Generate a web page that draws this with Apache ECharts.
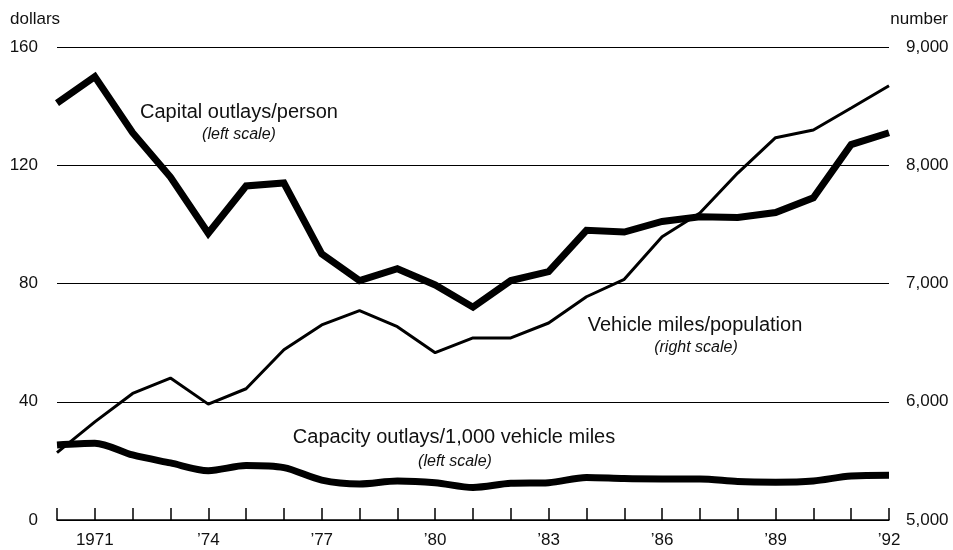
<!DOCTYPE html>
<html>
<head>
<meta charset="utf-8">
<script src="https://cdn.jsdelivr.net/npm/echarts@6/dist/echarts.min.js"></script>
<style>html,body{margin:0;padding:0;background:#fff;}#c{width:953px;height:550px;}</style>
</head>
<body>
<div id="c"></div>
<script>
var years = ['1970','1971','1972','1973','1974','1975','1976','1977','1978','1979','1980','1981','1982','1983','1984','1985','1986','1987','1988','1989','1990','1991','1992'];
var xTickLabels = ['','1971','','','\u201974','','','\u201977','','','\u201980','','','\u201983','','','\u201986','','','\u201989','','','\u201992'];
var capitalPerPerson = [141,150,131,116,97,113,114,90,81,85,79.5,72,81,84,98,97.4,101,102.6,102.3,104,109,127,131];
var vehicleMilesPerPop = [5570,5830,6070,6200,5980,6110,6440,6650,6770,6635,6415,6540,6540,6666,6888,7035,7396,7596,7934,8233,8298,8484,8673];
var capacityPer1000 = [25.4,26,22,19.3,16.7,18.4,17.7,13.5,12.2,13.2,12.6,11,12.4,12.6,14.4,14,13.9,13.9,13,12.8,13.2,14.9,15.1];
var leftTicks = [0,40,80,120,160];
var rightTicks = [5000,6000,7000,8000,9000];

var FONT = 'Liberation Sans, Arial, sans-serif';
var TXT = '#111';
var chart = echarts.init(document.getElementById('c'), null, {renderer:'canvas'});
chart.setOption({
  animation: false,
  backgroundColor: '#fff',
  grid: {left: 57, right: 64, top: 47, bottom: 30, containLabel: false},
  xAxis: {
    type: 'category', data: years, boundaryGap: false,
    axisLine: {show: true, lineStyle: {color: '#000', width: 1.5}},
    axisTick: {show: true, inside: true, length: 12, interval: 0, lineStyle: {color: '#000', width: 1.5}},
    axisLabel: {interval: 0, margin: 12, fontSize: 17, fontFamily: FONT, color: TXT,
      formatter: function(v, i){ return xTickLabels[i]; }},
    splitLine: {show: false}
  },
  yAxis: [{
    type: 'value', min: leftTicks[0], max: leftTicks[leftTicks.length-1], interval: 40, position: 'left',
    axisLine: {show: false}, axisTick: {show: false},
    axisLabel: {margin: 19, fontSize: 17, fontFamily: FONT, color: TXT},
    splitLine: {show: true, lineStyle: {color: '#000', width: 1}}
  },{
    type: 'value', min: rightTicks[0], max: rightTicks[rightTicks.length-1], interval: 1000, position: 'right',
    axisLine: {show: false}, axisTick: {show: false},
    axisLabel: {margin: 17, fontSize: 17, fontFamily: FONT, color: TXT,
      formatter: function(v){ return v.toLocaleString('en-US'); }},
    splitLine: {show: false}
  }],
  series: [{
    name: 'Capital outlays/person', type: 'line', yAxisIndex: 0, data: capitalPerPerson,
    showSymbol: false, symbol: 'none', lineStyle: {color: '#000', width: 7, join: 'miter'}, z: 3
  },{
    name: 'Vehicle miles/population', type: 'line', yAxisIndex: 1, data: vehicleMilesPerPop,
    showSymbol: false, symbol: 'none', lineStyle: {color: '#000', width: 3}, z: 4
  },{
    name: 'Capacity outlays/1,000 vehicle miles', type: 'line', yAxisIndex: 0, data: capacityPer1000,
    showSymbol: false, symbol: 'none', smooth: 0.3, lineStyle: {color: '#000', width: 7}, z: 3
  }],
  graphic: [
    {type:'text', left: 10, top: 11, style:{text:'dollars', font:'17px '+FONT, fill:TXT}},
    {type:'text', right: 5, top: 11, style:{text:'number', font:'17px '+FONT, fill:TXT}},
    {type:'text', x: 239, y: 112, style:{text:'Capital outlays/person', font:'20px '+FONT, fill:TXT, align:'center', verticalAlign:'middle'}},
    {type:'text', x: 239, y: 135, style:{text:'(left scale)', font:'italic 16px '+FONT, fill:TXT, align:'center', verticalAlign:'middle'}},
    {type:'text', x: 695, y: 325, style:{text:'Vehicle miles/population', font:'20px '+FONT, fill:TXT, align:'center', verticalAlign:'middle'}},
    {type:'text', x: 696, y: 348, style:{text:'(right scale)', font:'italic 16px '+FONT, fill:TXT, align:'center', verticalAlign:'middle'}},
    {type:'text', x: 454, y: 437, style:{text:'Capacity outlays/1,000 vehicle miles', font:'20px '+FONT, fill:TXT, align:'center', verticalAlign:'middle'}},
    {type:'text', x: 455, y: 462, style:{text:'(left scale)', font:'italic 16px '+FONT, fill:TXT, align:'center', verticalAlign:'middle'}}
  ]
});
</script>
</body>
</html>
